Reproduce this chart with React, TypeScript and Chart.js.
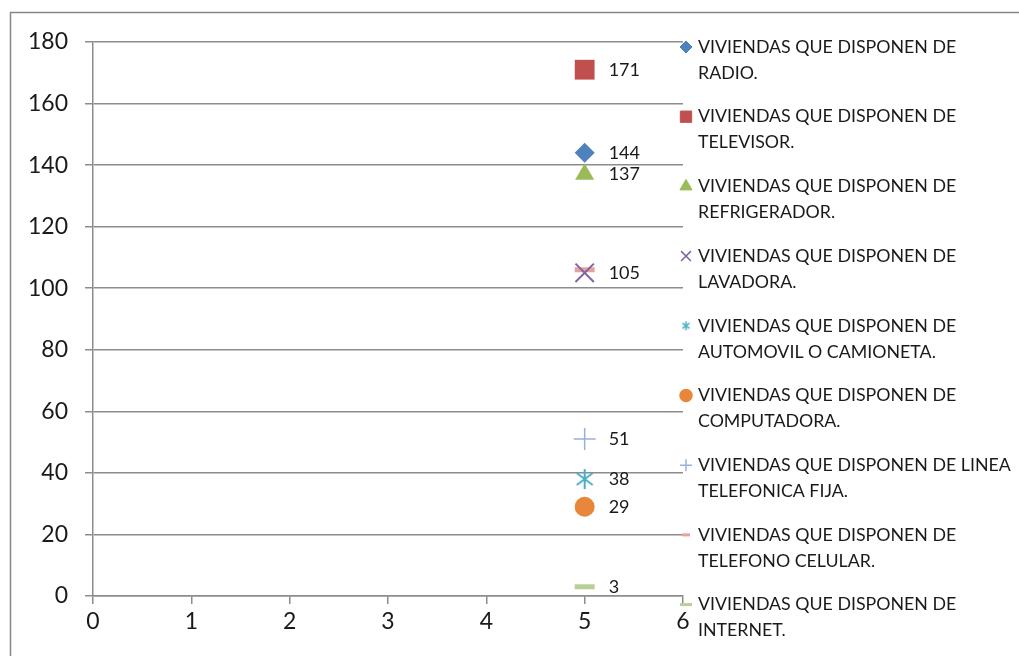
import React, { useEffect, useRef } from "react";
import { Chart, registerables } from "chart.js";
import { drawPoint } from "chart.js/helpers";

Chart.register(...registerables);

const seriesLines: string[][] = [
  ["VIVIENDAS QUE DISPONEN DE", "RADIO."],
  ["VIVIENDAS QUE DISPONEN DE", "TELEVISOR."],
  ["VIVIENDAS QUE DISPONEN DE", "REFRIGERADOR."],
  ["VIVIENDAS QUE DISPONEN DE", "LAVADORA."],
  ["VIVIENDAS QUE DISPONEN DE", "AUTOMOVIL O CAMIONETA."],
  ["VIVIENDAS QUE DISPONEN DE", "COMPUTADORA."],
  ["VIVIENDAS QUE DISPONEN DE LINEA", "TELEFONICA FIJA."],
  ["VIVIENDAS QUE DISPONEN DE", "TELEFONO CELULAR."],
  ["VIVIENDAS QUE DISPONEN DE", "INTERNET."],
];
const xValues = [5, 5, 5, 5, 5, 5, 5, 5, 5];
const yValues = [144, 171, 137, 105, 38, 29, 51, 106, 3];
const showValueLabel = [true, true, true, true, true, true, true, false, true];
const seriesColors = ["#4F81BD", "#C0504D", "#9BBB59", "#8064A2", "#4BACC6", "#E8873C", "#95B3D7", "#E3A2A0", "#B9CF93"];

const FONT = "Lato, 'Open Sans', sans-serif";

function makeAsterisk(size: number, color: string, lw: number): HTMLCanvasElement {
  const c = document.createElement("canvas");
  c.width = size;
  c.height = size;
  const ctx = c.getContext("2d")!;
  ctx.strokeStyle = color;
  ctx.lineWidth = lw;
  const m = size / 2;
  const r = size / 2 - 1;
  const d = r * 0.8;
  ctx.beginPath();
  ctx.moveTo(m, m - r);
  ctx.lineTo(m, m + r);
  ctx.moveTo(m - d, m - d * 0.75);
  ctx.lineTo(m + d, m + d * 0.75);
  ctx.moveTo(m - d, m + d * 0.75);
  ctx.lineTo(m + d, m - d * 0.75);
  ctx.stroke();
  return c;
}

type Style = { pointStyle: any; radius: number; borderWidth: number; filled: boolean; legendRadius: number };

export default function App() {
  const ref = useRef<HTMLCanvasElement>(null);
  useEffect(() => {
    if (!ref.current) return;
    const asteriskBig = makeAsterisk(22, seriesColors[4], 2);
    const asteriskSmall = makeAsterisk(11, seriesColors[4], 1.5);
    const styles: Style[] = [
      { pointStyle: "rectRot", radius: 10, borderWidth: 0, filled: true, legendRadius: 6 },
      { pointStyle: "rect", radius: 14, borderWidth: 0, filled: true, legendRadius: 8 },
      { pointStyle: "triangle", radius: 11, borderWidth: 0, filled: true, legendRadius: 7 },
      { pointStyle: "crossRot", radius: 13, borderWidth: 2, filled: false, legendRadius: 7 },
      { pointStyle: asteriskBig, radius: 11, borderWidth: 2, filled: false, legendRadius: 6 },
      { pointStyle: "circle", radius: 10, borderWidth: 0, filled: true, legendRadius: 6 },
      { pointStyle: "cross", radius: 11, borderWidth: 1.5, filled: false, legendRadius: 6 },
      { pointStyle: "line", radius: 10, borderWidth: 5, filled: false, legendRadius: 4 },
      { pointStyle: "line", radius: 10, borderWidth: 5, filled: false, legendRadius: 6 },
    ];

    const datasets = seriesLines.map((lines, i) => ({
      label: lines.join(" "),
      data: [{ x: xValues[i], y: yValues[i] }],
      pointStyle: styles[i].pointStyle,
      pointRadius: styles[i].radius,
      pointBorderWidth: styles[i].borderWidth,
      backgroundColor: seriesColors[i],
      borderColor: seriesColors[i],
      showLine: false,
    }));

    const decor = {
      id: "decor",
      beforeDraw(chart: any) {
        const ctx = chart.ctx;
        ctx.save();
        ctx.fillStyle = "#fff";
        ctx.fillRect(0, 0, chart.width, chart.height);
        ctx.strokeStyle = "#868686";
        ctx.lineWidth = 1.5;
        ctx.strokeRect(10.5, 12.5, 1100, 800);
        ctx.restore();
      },
      afterDatasetsDraw(chart: any) {
        const ctx = chart.ctx;
        ctx.save();
        ctx.font = `18px ${FONT}`;
        ctx.fillStyle = "#1a1a1a";
        ctx.textBaseline = "middle";
        ctx.textAlign = "left";
        chart.data.datasets.forEach((ds: any, i: number) => {
          if (!showValueLabel[i]) return;
          const pt = chart.getDatasetMeta(i).data[0];
          ctx.fillText(String(yValues[i]), pt.x + 24, pt.y);
        });
        ctx.restore();
      },
      afterDraw(chart: any) {
        const ctx = chart.ctx;
        ctx.save();
        const x0 = 686;
        const tx = 698;
        seriesLines.forEach((lines, i) => {
          const y = 47 + i * 69.7;
          const st = styles[i];
          ctx.fillStyle = seriesColors[i];
          ctx.strokeStyle = seriesColors[i];
          ctx.lineWidth = st.pointStyle === "line" ? 3 : st.borderWidth ? 1.5 : 0;
          const ps = st.pointStyle === asteriskBig ? asteriskSmall : st.pointStyle;
          drawPoint(ctx, { pointStyle: ps, radius: st.legendRadius, rotation: 0, borderWidth: ctx.lineWidth }, x0, y);
          ctx.fillStyle = "#1a1a1a";
          ctx.font = `17.8px ${FONT}`;
          ctx.textBaseline = "middle";
          ctx.textAlign = "left";
          lines.forEach((ln, k) => ctx.fillText(ln, tx, y + k * 26));
        });
        ctx.restore();
      },
    };

    const chart = new Chart(ref.current, {
      type: "scatter",
      data: { datasets },
      options: {
        animation: false,
        responsive: true,
        maintainAspectRatio: false,
        events: [],
        layout: { padding: { left: 0, right: 336, top: 42, bottom: 0 } },
        plugins: { legend: { display: false }, tooltip: { enabled: false } },
        scales: {
          x: {
            type: "linear",
            min: 0,
            max: 6,
            afterFit: (s: any) => { s.height = 60; },
            ticks: { stepSize: 1, color: "#1a1a1a", font: { size: 23, family: FONT }, padding: 4 },
            grid: { drawOnChartArea: false, drawTicks: true, tickLength: 8, color: "#8c8c8c", lineWidth: 1.5 },
            border: { color: "#8c8c8c", width: 1.5 },
          },
          y: {
            min: 0,
            max: 180,
            afterFit: (s: any) => { s.width = 93; },
            ticks: { stepSize: 20, color: "#1a1a1a", font: { size: 23, family: FONT }, padding: 17 },
            grid: { color: "#8c8c8c", lineWidth: 1.5, tickLength: 8 },
            border: { color: "#8c8c8c", width: 1.5 },
          },
        },
      },
      plugins: [decor],
    } as any);
    return () => chart.destroy();
  }, []);
  return (
    <div style={{ position: "absolute", left: 0, top: 0, width: 1019, height: 656 }}>
      <canvas ref={ref} />
    </div>
  );
}
